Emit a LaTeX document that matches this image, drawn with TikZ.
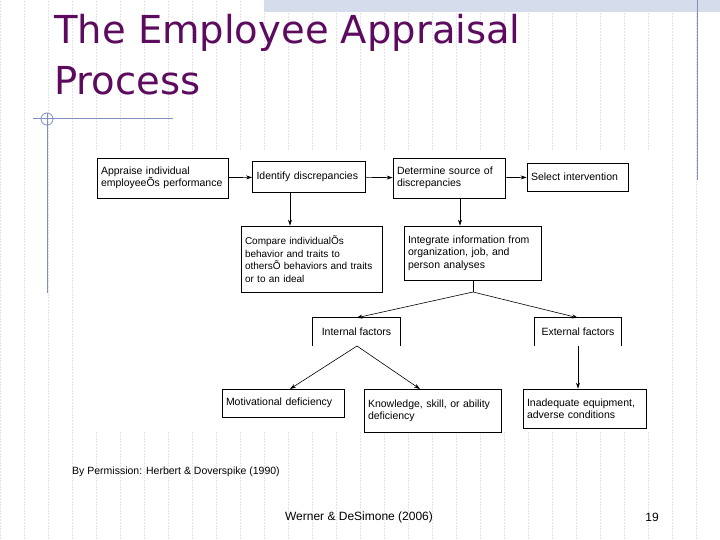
\documentclass[tikz,border=0pt]{standalone}
\usepackage{fontspec}
\setmainfont{Liberation Sans}
\newfontfamily\titlefont{DejaVu Sans}
\usetikzlibrary{arrows.meta}
\definecolor{ttl}{HTML}{5C0B5E}
\definecolor{deco}{HTML}{7F8FBF}
\definecolor{gridc}{HTML}{E0E3EA}
\definecolor{band}{HTML}{D5DCEB}
\begin{document}
\begin{tikzpicture}[x=1pt,y=-1pt,
  bx/.style={draw,line width=0.8pt,fill=white,font=\fontsize{10.5}{12.5}\selectfont,align=left,inner sep=0pt},
  arr/.style={-{Stealth[length=6pt,width=4pt]},line width=0.6pt}]
\useasboundingbox (0,0) rectangle (720,540);
\fill[white] (0,0) rectangle (720,540);
\draw[gridc,densely dotted,line width=0.5pt] (0,0) grid[step=24] (720,540);
\fill[band] (264,0) rectangle (720,12);
\fill[white] (88,150) rectangle (655,432);
% decoration
\draw[deco,line width=1pt] (33,119) -- (173,119) (47,113) -- (47,293) (697,0) -- (697,180);
\draw[deco,line width=0.8pt] (47,119) circle (6);
% title
\node[anchor=north west,text=ttl,font=\titlefont\fontsize{38.5}{51}\selectfont,align=left,inner sep=0pt] (title) at (54,14) {The Employee Appraisal\\Process};
% boxes
\node[bx,minimum width=131,minimum height=40,text width=123] (a) at (162.5,178) {Appraise individual\\employeeÕs performance};
\node[bx,minimum width=113,minimum height=31,text width=105] (b) at (309,177) {Identify discrepancies};
\node[bx,minimum width=112,minimum height=40,text width=104] (c) at (449,178) {Determine source of\\discrepancies};
\node[bx,minimum width=101,minimum height=28,text width=93] (d) at (577.5,177) {Select intervention};
\node[bx,minimum width=141,minimum height=66,text width=133,font=\fontsize{10}{12.5}\selectfont] (e) at (311.5,259) {Compare individualÕs\\behavior and traits to\\othersÕ behaviors and traits\\or to an ideal};
\node[bx,minimum width=137,minimum height=54,text width=129] (f) at (472.5,253) {Integrate information from\\organization, job, and\\person analyses};
\node[font=\fontsize{10.5}{12.5}\selectfont,minimum width=87,minimum height=28,inner sep=0pt] (g) at (356.5,332) {Internal factors};
\draw[line width=0.8pt] (g.south west) -- (g.north west) -- (g.north east) -- (g.south east);
\node[font=\fontsize{10.5}{12.5}\selectfont,minimum width=86,minimum height=28,inner sep=0pt] (h) at (578,332) {External factors};
\draw[line width=0.8pt] (h.south west) -- (h.north west) -- (h.north east) -- (h.south east);
\node[bx,minimum width=122,minimum height=28,text width=114] (i) at (283,403) {Motivational deficiency};
\node[bx,minimum width=137,minimum height=43,text width=129,anchor=north] (j) at (432.5,389) {Knowledge, skill, or ability\\deficiency\\[8pt]};
\node[bx,minimum width=123,minimum height=39,text width=115] (k) at (584.5,408.5) {Inadequate equipment,\\adverse conditions};
% arrows
\draw[arr] (a) -- (b);
\draw[arr] (b) -- (c);
\draw[arr] (c) -- (d);
\draw[arr] (b.south -| 290,0) -- (e.north -| 290,0);
\draw[arr] (c.south -| 460,0) -- (f.north -| 460,0);
\coordinate (fs) at (473,292);
\draw[line width=0.6pt] (f.south -| fs) -- (fs);
\draw[arr] (fs) -- (g.north);
\draw[arr] (fs) -- (h.north);
\coordinate (gs) at (357,346);
\draw[arr] (gs) -- (290,389);
\draw[arr] (gs) -- (420,389);
\draw[arr] (h.south) -- (k.north -| h.south);
% footer
\node[anchor=west,font=\fontsize{10.5}{12}\selectfont,inner sep=0pt] (perm) at (72,472) {By Permission: Herbert \& Doverspike (1990)};
\node[font=\fontsize{12}{14}\selectfont,inner sep=0pt] (src) at (359,517) {Werner \& DeSimone (2006)};
\node[font=\fontsize{12}{14}\selectfont,inner sep=0pt] (pg) at (652,517) {19};
\end{tikzpicture}
\end{document}
